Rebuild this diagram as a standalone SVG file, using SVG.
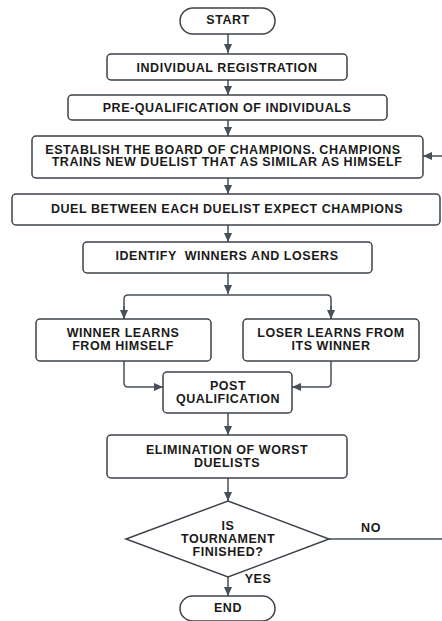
<svg xmlns="http://www.w3.org/2000/svg" width="442" height="621" viewBox="0 0 442 621">
<style>
.box{fill:#fff;stroke:#3d434b;stroke-width:1.5}
.t{font-family:"Liberation Sans",Arial,sans-serif;font-weight:bold;font-size:12.5px;letter-spacing:0.55px;fill:#1a1a1a;text-anchor:middle}
.c{fill:none;stroke:#474f5a;stroke-width:1.5}
</style>
<defs>
<marker id="ah" viewBox="0 0 10 10" refX="10" refY="5" markerWidth="9" markerHeight="9" orient="auto" markerUnits="userSpaceOnUse">
<path d="M0,0.5 L10,5 L0,9.5 z" fill="#474f5a"/>
</marker>
</defs>
<rect width="442" height="621" fill="#fff"/>
<g id="connectors">
<path class="c" d="M228,34 V53" marker-end="url(#ah)"/>
<path class="c" d="M228,80 V95" marker-end="url(#ah)"/>
<path class="c" d="M228,120 V136" marker-end="url(#ah)"/>
<path class="c" d="M228,178 V194" marker-end="url(#ah)"/>
<path class="c" d="M228,225 V242" marker-end="url(#ah)"/>
<path class="c" d="M228,273 V294" marker-end="url(#ah)"/>
<path class="c" d="M124,319 V299 Q124,295 128,295 H327 Q331,295 331,299 V319" />
<path class="c" d="M124,306 V319" marker-end="url(#ah)"/>
<path class="c" d="M331,306 V319" marker-end="url(#ah)"/>
<path class="c" d="M124,361 V383 Q124,387 128,387 H163" marker-end="url(#ah)"/>
<path class="c" d="M331,361 V383 Q331,387 327,387 H292" marker-end="url(#ah)"/>
<path class="c" d="M228,413 V435" marker-end="url(#ah)"/>
<path class="c" d="M228,478 V501" marker-end="url(#ah)"/>
<path class="c" d="M228,577 V596" marker-end="url(#ah)"/>
<path class="c" d="M329,539 H443 V156 H423" marker-end="url(#ah)"/>
</g>
<g id="start">
<rect class="box" x="180" y="8" width="95" height="26" rx="13"/>
<text class="t" x="228" y="23.5">START</text>
</g>
<g id="registration">
<rect class="box" x="107" y="54" width="240" height="26" rx="4"/>
<text class="t" x="227" y="71.5">INDIVIDUAL REGISTRATION</text>
</g>
<g id="prequal">
<rect class="box" x="68" y="95" width="319" height="25" rx="4"/>
<text class="t" x="227" y="111.5">PRE-QUALIFICATION OF INDIVIDUALS</text>
</g>
<g id="establish">
<rect class="box" x="32" y="136" width="391" height="42" rx="4"/>
<text class="t" x="223" y="153.5">ESTABLISH THE BOARD OF CHAMPIONS. CHAMPIONS</text>
<text class="t" x="227" y="166.2">TRAINS NEW DUELIST THAT AS SIMILAR AS HIMSELF</text>
</g>
<g id="duel">
<rect class="box" x="12" y="194" width="428" height="31" rx="4"/>
<text class="t" x="227" y="212.5">DUEL BETWEEN EACH DUELIST EXPECT CHAMPIONS</text>
</g>
<g id="identify">
<rect class="box" x="83" y="242" width="289" height="31" rx="4"/>
<text class="t" x="227" y="260" xml:space="preserve">IDENTIFY  WINNERS AND LOSERS</text>
</g>
<g id="winner">
<rect class="box" x="36" y="319" width="175" height="42" rx="4"/>
<text class="t" x="123" y="337">WINNER LEARNS</text>
<text class="t" x="123" y="350">FROM HIMSELF</text>
</g>
<g id="loser">
<rect class="box" x="243" y="319" width="176" height="42" rx="4"/>
<text class="t" x="331" y="337">LOSER LEARNS FROM</text>
<text class="t" x="331" y="350">ITS WINNER</text>
</g>
<g id="postqual">
<rect class="box" x="163" y="372" width="129" height="41" rx="4"/>
<text class="t" x="228" y="390">POST</text>
<text class="t" x="228" y="403">QUALIFICATION</text>
</g>
<g id="elimination">
<rect class="box" x="107" y="435" width="240" height="43" rx="4"/>
<text class="t" x="227" y="453.5">ELIMINATION OF WORST</text>
<text class="t" x="227" y="466.5">DUELISTS</text>
</g>
<g id="decision">
<path class="box" d="M228,501 L329,539 L228,577 L126,539 Z"/>
<text class="t" x="228" y="529.5">IS</text>
<text class="t" x="228" y="542.5">TOURNAMENT</text>
<text class="t" x="228" y="555.5">FINISHED?</text>
<text class="t" x="371" y="532">NO</text>
<text class="t" x="258" y="583">YES</text>
</g>
<g id="end">
<rect class="box" x="180" y="596" width="95" height="25" rx="12.5"/>
<text class="t" x="228" y="611.5">END</text>
</g>
</svg>
